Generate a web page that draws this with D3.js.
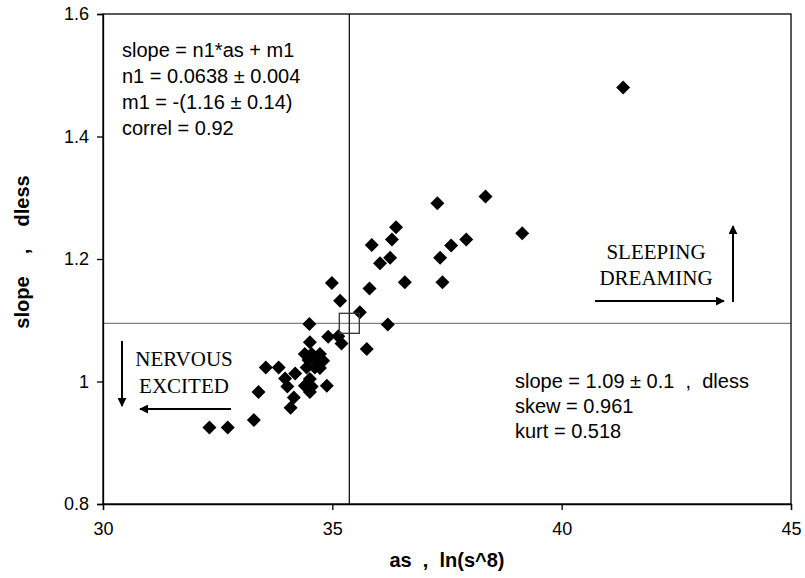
<!DOCTYPE html>
<html><head><meta charset="utf-8">
<script src="https://cdn.jsdelivr.net/npm/d3@7"></script>
<style>body{margin:0;background:#fff}svg{display:block}text{white-space:pre}</style>
</head><body>
<svg id="chart" width="805" height="578"></svg>
<script>
const asValues = [41.34,38.34,37.29,39.14,37.92,36.39,36.30,37.59,35.86,36.26,36.04,37.35,36.58,37.40,34.99,35.81,35.17,35.60,34.50,36.21,34.91,35.13,35.20,34.51,35.75,
  34.40,34.55,34.73,34.48,34.66,34.80,34.44,34.62,34.73,
  33.55,33.83,34.19,33.97,34.02,34.51,34.40,34.55,34.51,34.88,33.39,34.16,34.09,33.29,32.32,32.72];
const slopeValues = [1.480,1.302,1.291,1.242,1.232,1.252,1.232,1.222,1.223,1.202,1.193,1.202,1.162,1.162,1.161,1.152,1.132,1.113,1.094,1.093,1.073,1.074,1.062,1.064,1.053,
  1.045,1.045,1.045,1.035,1.035,1.034,1.023,1.023,1.022,
  1.023,1.023,1.013,1.005,0.992,1.004,0.993,0.992,0.983,0.993,0.983,0.974,0.957,0.937,0.925,0.925];
const xTicks = [30,35,40,45];
const yTicks = [0.8,1,1.2,1.4,1.6];
const meanAs = 35.37;
const meanSlope = 1.095;
const fitText = ["slope = n1*as + m1","n1 = 0.0638 \u00b1 0.004","m1 = -(1.16 \u00b1 0.14)","correl = 0.92"];
const statText = ["slope = 1.09 \u00b1 0.1  ,  dless","skew = 0.961","kurt = 0.518"];

const svg = d3.select("#chart");
const L=103,R=791,T=14,B=504;
const x = d3.scaleLinear().domain([30,45]).range([L,R]);
const y = d3.scaleLinear().domain([0.8,1.6]).range([B,T]);
const sans = "Arial, 'Liberation Sans', sans-serif";
const serif = "'Times New Roman', 'Liberation Serif', serif";

// reference lines
svg.append("line").attr("x1",L).attr("x2",R).attr("y1",y(meanSlope)).attr("y2",y(meanSlope)).attr("stroke","#808080").attr("stroke-width",1.3);
svg.append("line").attr("x1",x(meanAs)).attr("x2",x(meanAs)).attr("y1",T).attr("y2",B).attr("stroke","#000").attr("stroke-width",1.2);

// frame
svg.append("rect").attr("x",L).attr("y",T).attr("width",R-L).attr("height",B-T).attr("fill","none").attr("stroke","#000").attr("stroke-width",1.3);

// axes
const xAxis = svg.append("g").attr("transform",`translate(0,${B})`).call(d3.axisBottom(x).tickValues(xTicks).tickSize(6).tickPadding(12).tickFormat(d3.format("d")));
const yAxis = svg.append("g").attr("transform",`translate(${L},0)`).call(d3.axisLeft(y).tickValues(yTicks).tickSize(6).tickPadding(8).tickFormat(d=>d===1?"1":d3.format(".1f")(d)));
[xAxis,yAxis].forEach(a=>{a.select(".domain").attr("stroke","#000").attr("stroke-width",1.3);a.selectAll("line").attr("stroke","#000").attr("stroke-width",1.3);a.selectAll("text").attr("font-family",sans).attr("font-size",18).attr("fill","#000");});

// points
const sym = d3.symbol().type(d3.symbolSquare).size(98);
svg.append("g").selectAll("path").data(asValues.map((a,i)=>[a,slopeValues[i]])).join("path")
  .attr("d",sym).attr("transform",d=>`translate(${x(d[0])},${y(d[1])}) rotate(45)`).attr("fill","#000");

// mean square
svg.append("rect").attr("x",x(meanAs)-10).attr("y",y(meanSlope)-10).attr("width",20).attr("height",20).attr("fill","none").attr("stroke","#333").attr("stroke-width",1.3);

// axis titles
svg.append("text").attr("x",(L+R)/2).attr("y",567).attr("text-anchor","middle").attr("font-family",sans).attr("font-weight","bold").attr("font-size",20).text("as  ,  ln(s^8)");
svg.append("text").attr("transform",`translate(29,252) rotate(-90)`).attr("text-anchor","middle").attr("font-family",sans).attr("font-weight","bold").attr("font-size",20).text("slope    ,    dless");

// annotations
svg.append("g").selectAll("text").data(fitText).join("text").attr("x",122).attr("y",(d,i)=>57+i*26).attr("font-family",sans).attr("font-size",20).text(d=>d);
svg.append("g").selectAll("text").data(statText).join("text").attr("x",515).attr("y",(d,i)=>388+i*25).attr("font-family",sans).attr("font-size",20).text(d=>d);

// labels with arrows
const defs = svg.append("defs");
defs.append("marker").attr("id","ah").attr("viewBox","0 0 10 10").attr("refX",9).attr("refY",5).attr("markerWidth",9).attr("markerHeight",9).attr("orient","auto").attr("markerUnits","userSpaceOnUse")
  .append("path").attr("d","M0,0L10,5L0,10Z").attr("fill","#000");

svg.append("text").attr("x",184).attr("y",366).attr("text-anchor","middle").attr("font-family",serif).attr("font-size",21).text("NERVOUS");
svg.append("text").attr("x",184).attr("y",393).attr("text-anchor","middle").attr("font-family",serif).attr("font-size",21).text("EXCITED");
svg.append("line").attr("x1",231).attr("y1",409).attr("x2",140).attr("y2",409).attr("stroke","#000").attr("stroke-width",2).attr("marker-end","url(#ah)");
svg.append("line").attr("x1",122).attr("y1",341).attr("x2",122).attr("y2",406).attr("stroke","#000").attr("stroke-width",2).attr("marker-end","url(#ah)");

svg.append("text").attr("x",656).attr("y",259).attr("text-anchor","middle").attr("font-family",serif).attr("font-size",21).text("SLEEPING");
svg.append("text").attr("x",656).attr("y",285).attr("text-anchor","middle").attr("font-family",serif).attr("font-size",21).text("DREAMING");
svg.append("line").attr("x1",595).attr("y1",301).attr("x2",724).attr("y2",301).attr("stroke","#000").attr("stroke-width",2).attr("marker-end","url(#ah)");
svg.append("line").attr("x1",733).attr("y1",302).attr("x2",733).attr("y2",226).attr("stroke","#000").attr("stroke-width",2).attr("marker-end","url(#ah)");
</script>
</body></html>
